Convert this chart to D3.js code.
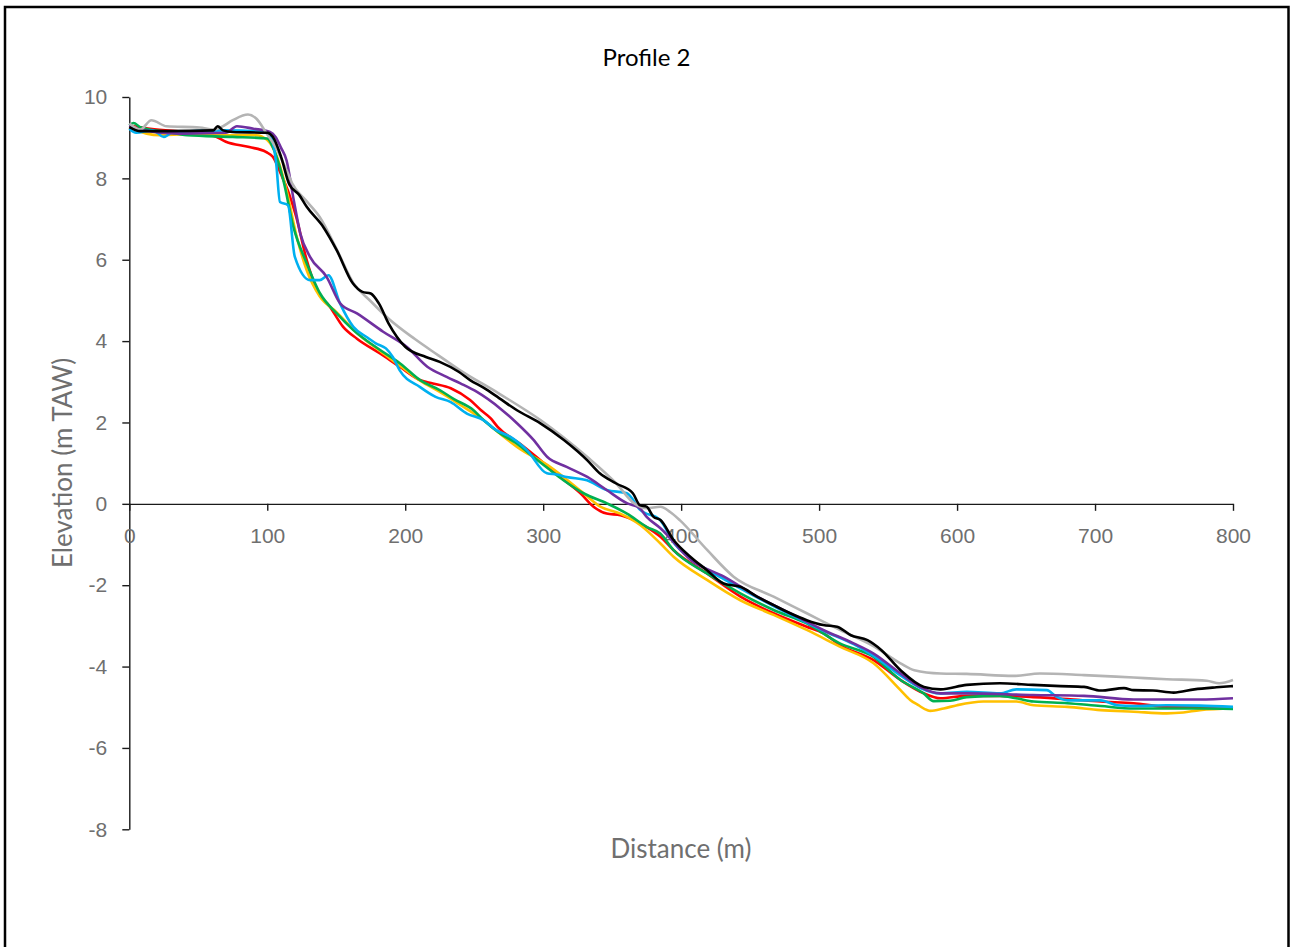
<!DOCTYPE html>
<html>
<head>
<meta charset="utf-8">
<script src="https://cdn.jsdelivr.net/npm/d3@7"></script>
<style>
  body { margin: 0; background: #fff; }
  svg { display: block; font-family: Lato, "Open Sans", sans-serif; }
</style>
</head>
<body>
<div id="chart"></div>
<script>
// survey profiles, [distance (m), elevation (m TAW)]
const grayLine = [[0,9.35],[8,9.2],[16,9.43],[27,9.28],[51,9.25],[61,9.2],[66,9.25],[75,9.43],[86,9.57],[92,9.47],[99.6,9.1],[106,8.77],[114,8.2],[118,7.88],[128,7.46],[138,7.05],[150,6.28],[162,5.45],[175,4.98],[188,4.55],[207,4.05],[224,3.65],[239,3.3],[268,2.71],[298,2.06],[332,1.15],[353,0.5],[366,0.01],[375,-0.11],[385,-0.07],[392,-0.2],[399,-0.4],[419,-1.14],[438,-1.79],[467,-2.28],[491,-2.69],[515,-3.1],[540,-3.51],[559,-3.92],[569,-4.09],[588,-4.17],[607,-4.18],[641,-4.23],[660,-4.17],[692,-4.21],[728,-4.27],[752,-4.31],[781,-4.35],[790,-4.41],[800,-4.33]];
const blackLine = [[0,9.26],[8,9.16],[27,9.16],[61,9.18],[64,9.28],[68,9.18],[75,9.14],[100,9.12],[104,9.02],[110,8.53],[116,7.85],[123,7.6],[128.6,7.3],[140.7,6.8],[150.4,6.23],[162,5.42],[169,5.21],[175,5.17],[181,4.92],[188,4.43],[200,3.86],[215,3.61],[225,3.49],[239,3.24],[247,3.04],[257,2.85],[268,2.6],[281,2.3],[298,1.98],[315,1.57],[332,1.07],[341,0.75],[353,0.5],[365,0.26],[370,-0.03],[375,-0.07],[380,-0.32],[385,-0.4],[394.5,-0.89],[406.6,-1.3],[418.7,-1.63],[430.7,-1.96],[443,-2.04],[455,-2.28],[467,-2.49],[479,-2.69],[491,-2.86],[503,-2.98],[513,-3.02],[523,-3.23],[535,-3.35],[545,-3.59],[559,-4.09],[576,-4.5],[588,-4.56],[607,-4.45],[631,-4.41],[655,-4.45],[675,-4.48],[692,-4.5],[704,-4.59],[721,-4.53],[728,-4.58],[742,-4.59],[757,-4.64],[772,-4.56],[788,-4.51],[800,-4.48]];
const purpleLine = [[0,9.3],[10,9.18],[37,9.1],[70,9.12],[78,9.28],[90,9.22],[102,9.14],[106,9.02],[110,8.75],[114,8.44],[119,7.5],[124,6.64],[131,6.07],[143,5.58],[153,4.92],[165,4.68],[184,4.23],[201,3.86],[216,3.37],[230,3.12],[240,2.96],[252,2.75],[269,2.34],[281,1.98],[293,1.57],[303,1.15],[317,0.91],[332,0.66],[346,0.34],[361,0.01],[370,-0.11],[375,-0.32],[385,-0.6],[407,-1.38],[431,-1.79],[455,-2.28],[479,-2.69],[503,-3.1],[525,-3.43],[539.5,-3.68],[559,-4.17],[573,-4.5],[588,-4.66],[607,-4.66],[655,-4.7],[692,-4.72],[728,-4.81],[776,-4.81],[800,-4.78]];
const redLine = [[0,9.3],[15,9.22],[51,9.1],[63,9.02],[70,8.9],[87,8.77],[99,8.65],[104,8.53],[110,8.1],[116,7.6],[121,7.05],[128.6,5.99],[136,5.25],[145.5,4.84],[155,4.35],[165,4.06],[182,3.69],[196,3.37],[211,3.04],[220,2.96],[233,2.84],[247,2.55],[255,2.3],[262,2.1],[267,1.89],[283,1.48],[298,1.07],[312.5,0.66],[327,0.26],[336.5,-0.07],[346,-0.24],[356,-0.28],[365.5,-0.4],[375,-0.57],[385,-0.81],[394.5,-1.14],[418.7,-1.71],[443,-2.28],[467,-2.69],[491,-3.02],[503,-3.18],[515,-3.47],[539.5,-3.84],[559,-4.33],[576,-4.66],[588,-4.78],[607,-4.72],[631,-4.72],[655,-4.75],[680,-4.8],[704,-4.86],[728,-4.9],[752,-4.99],[776,-4.99],[800,-5.03]];
const orangeLine = [[0,9.26],[12.6,9.1],[22,9.06],[51,9.1],[70,9.06],[92,9.06],[100,8.94],[107,8.53],[114,7.7],[121.4,6.56],[128.6,5.74],[138,5.1],[150,4.72],[165,4.2],[182,3.75],[196,3.4],[211,3.02],[225,2.75],[240,2.43],[256.7,2.06],[268.8,1.72],[281,1.4],[305,0.91],[329.2,0.26],[341.4,-0.07],[355.8,-0.24],[370.3,-0.52],[384.8,-0.97],[394.5,-1.3],[418.7,-1.87],[442.9,-2.37],[467,-2.73],[491,-3.1],[515,-3.51],[539.5,-3.92],[559,-4.58],[566,-4.82],[572,-4.95],[578.2,-5.07],[580.6,-5.09],[590.3,-5.03],[600,-4.95],[619,-4.86],[643,-4.86],[655.5,-4.95],[680,-4.99],[704,-5.07],[728,-5.11],[752,-5.15],[764,-5.13],[776,-5.07],[800,-5.03]];
const greenLine = [[0,9.3],[3,9.36],[8,9.26],[27,9.14],[42,9.06],[75,9.02],[100,8.98],[104,8.77],[111.7,7.95],[119,6.8],[128.6,5.91],[138.3,5.17],[150.4,4.68],[162.4,4.27],[181.8,3.78],[196.3,3.45],[210.8,3.04],[225.3,2.79],[235,2.58],[249.5,2.3],[256.7,2.06],[268.8,1.73],[281,1.48],[293,1.15],[305,0.83],[314.7,0.58],[329.2,0.26],[346.2,0.01],[360.7,-0.24],[375.2,-0.57],[384.8,-0.73],[394.5,-1.14],[418.7,-1.71],[442.9,-2.2],[467,-2.61],[491,-2.94],[515,-3.43],[539.5,-3.76],[559,-4.33],[575.8,-4.66],[583,-4.85],[595,-4.84],[607,-4.75],[631,-4.72],[643,-4.78],[655.5,-4.86],[680,-4.9],[704,-4.97],[728,-5.03],[776,-5.03],[800,-5.04]];
const cyanLine = [[0,9.22],[5,9.12],[17,9.18],[25,9.02],[32,9.14],[70,9.18],[100,9.14],[103.6,8.94],[106.5,8.36],[109.2,7.42],[115,7.34],[120,6.07],[131,5.5],[138,5.5],[144.3,5.62],[152.8,4.92],[162.4,4.35],[172,4.1],[179,3.94],[186,3.82],[191,3.61],[196,3.28],[210.8,2.87],[222,2.63],[233,2.5],[244.7,2.22],[256.7,2.06],[266,1.81],[276,1.65],[288.2,1.32],[302.7,0.75],[310,0.72],[317,0.66],[331.7,0.58],[346,0.34],[360.7,0.26],[370.3,-0.15],[384.8,-0.4],[394.5,-0.95],[407,-1.35],[431,-1.85],[455,-2.3],[479,-2.72],[503,-3.12],[525,-3.45],[540,-3.75],[559,-4.22],[573,-4.52],[588,-4.66],[607,-4.62],[631,-4.66],[643,-4.56],[665,-4.58],[672,-4.74],[680,-4.83],[704,-4.83],[716,-4.95],[728,-4.97],[752,-4.95],[776,-4.96],[800,-4.99]];

const seriesList = [
  {values: redLine, color: "#FF0000"},
  {values: orangeLine, color: "#FFC000"},
  {values: greenLine, color: "#00B050"},
  {values: cyanLine, color: "#00B0F0"},
  {values: purpleLine, color: "#7030A0"},
  {values: grayLine, color: "#B4B4B4"},
  {values: blackLine, color: "#000000"}
];

const xTicks = [0, 100, 200, 300, 400, 500, 600, 700, 800];
const yTicks = [-8, -6, -4, -2, 0, 2, 4, 6, 8, 10];

const W = 1290, H = 947;
const svg = d3.select("#chart").append("svg")
    .attr("width", W)
    .attr("height", H);

// outer chart frame
svg.append("rect")
    .attr("x", 5).attr("y", 7)
    .attr("width", 1283.5).attr("height", 960)
    .attr("fill", "#fff")
    .attr("stroke", "#000")
    .attr("stroke-width", 2.5);

const x = d3.scaleLinear().domain([0, 800]).range([129.3, 1233]);
const y = d3.scaleLinear().domain([-8, 10]).range([829.3, 97]);

svg.append("text")
    .attr("x", 646.5).attr("y", 66)
    .attr("text-anchor", "middle")
    .style("font-size", "24px")
    .attr("fill", "#000")
    .text("Profile 2");

// plain hyphen for negatives, like the original
const fmt = d => String(d);

// Y axis
const yAxis = svg.append("g")
    .attr("transform", "translate(" + x(0) + ",0)")
    .call(d3.axisLeft(y).tickValues(yTicks).tickFormat(fmt).tickSize(7).tickSizeOuter(0).tickPadding(15));
yAxis.selectAll("text").style("font-size", "21px").attr("fill", "#6f6f6f");

// X axis at elevation 0
const xAxis = svg.append("g")
    .attr("transform", "translate(0," + y(0) + ")")
    .call(d3.axisBottom(x).tickValues(xTicks).tickFormat(fmt).tickSize(7).tickSizeOuter(0).tickPadding(17));
xAxis.selectAll("text").style("font-size", "21px").attr("fill", "#6f6f6f");

svg.selectAll(".domain, .tick line").attr("stroke", "#1a1a1a").attr("stroke-width", 1.4);

svg.append("text")
    .attr("x", 681).attr("y", 858)
    .attr("text-anchor", "middle")
    .style("font-size", "26px")
    .attr("fill", "#6f6f6f")
    .text("Distance (m)");

svg.append("text")
    .attr("transform", "translate(72,463) rotate(-90)")
    .attr("text-anchor", "middle")
    .style("font-size", "26px")
    .attr("fill", "#6f6f6f")
    .text("Elevation (m TAW)");

const line = d3.line()
    .x(d => x(d[0]))
    .y(d => y(d[1]))
    .curve(d3.curveMonotoneX);

svg.selectAll(".profile")
    .data(seriesList)
    .enter()
    .append("path")
    .attr("class", "profile")
    .attr("d", d => line(d.values))
    .attr("fill", "none")
    .attr("stroke", d => d.color)
    .attr("stroke-width", 2.6)
    .attr("stroke-linejoin", "round");
</script>
</body>
</html>
